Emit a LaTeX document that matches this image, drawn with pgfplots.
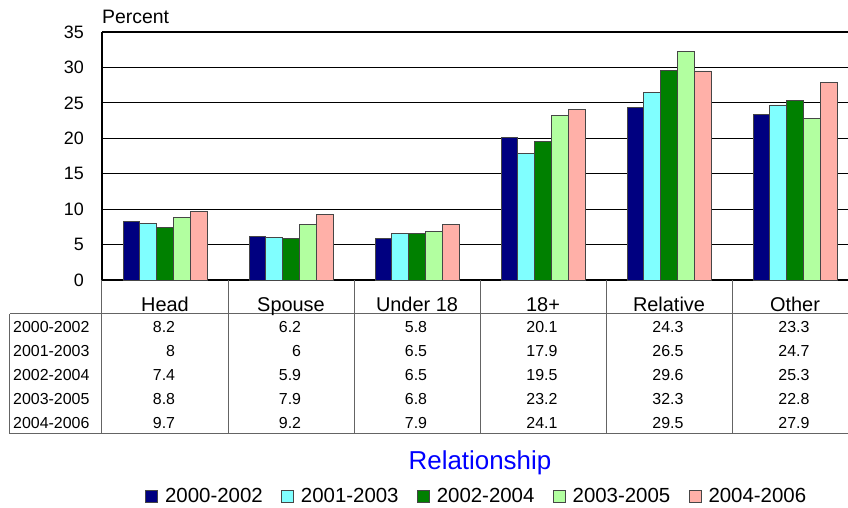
\documentclass[border=0pt]{standalone}
\usepackage{pgfplots}
\pgfplotsset{compat=1.18}
\usepackage{pgfplotstable}
\usepackage{fontspec}
\setmainfont{Liberation Sans}

\definecolor{cA}{RGB}{0,0,128}
\definecolor{cB}{RGB}{128,255,255}
\definecolor{cC}{RGB}{0,128,0}
\definecolor{cD}{RGB}{178,255,160}
\definecolor{cE}{RGB}{255,176,168}
\definecolor{edge}{RGB}{70,70,70}
\definecolor{tline}{RGB}{100,100,100}

\pgfplotstableread{
x A B C D E
0 8.2 8 7.4 8.8 9.7
1 6.2 6 5.9 7.9 9.2
2 5.8 6.5 6.5 6.8 7.9
3 20.1 17.9 19.5 23.2 24.1
4 24.3 26.5 29.6 32.3 29.5
5 23.3 24.7 25.3 22.8 27.9
}\data

\begin{document}
\begin{tikzpicture}
\begin{axis}[
  name=ax,
  scale only axis, width=746bp, height=248bp,
  xmin=-0.5, xmax=5.4206, ymin=0, ymax=35,
  ybar=0pt, bar width=16.8bp,
  axis x line*=bottom, axis y line*=left,
  axis line style={black, line width=1.4bp},
  xtick=\empty,
  ytick={0,5,...,35},
  ymajorgrids, grid style={black, line width=1.1bp},
  major tick length=0pt,
  /pgf/number format/assume math mode=true,
  yticklabel style={font=\fontsize{18}{20}\selectfont, inner sep=0pt, xshift=-18bp},
  clip=false,
  legend style={at={(43/746,-216/248)}, anchor=west, draw=none, fill=none,
    inner sep=0pt, font=\fontsize{20.5}{22}\selectfont,
    /tikz/every odd column/.append style={column sep=5bp},
    /tikz/every even column/.append style={column sep=16.3bp}},
  legend columns=-1,
  legend image code/.code={\draw[#1, draw=edge, line width=0.9bp] (0bp,-6bp) rectangle (12bp,6bp);},
]
\addplot[fill=cA, draw=edge, line width=0.9bp] table[x=x,y=A]{\data};
\addplot[fill=cB, draw=edge, line width=0.9bp] table[x=x,y=B]{\data};
\addplot[fill=cC, draw=edge, line width=0.9bp] table[x=x,y=C]{\data};
\addplot[fill=cD, draw=edge, line width=0.9bp] table[x=x,y=D]{\data};
\addplot[fill=cE, draw=edge, line width=0.9bp] table[x=x,y=E]{\data};
\legend{2000-2002,2001-2003,2002-2004,2003-2005,2004-2006}
\coordinate (O) at (rel axis cs:-0.136729,-0.919355);
\end{axis}
\begin{scope}[shift={(O)}, x=1bp, y=1bp]
\node[anchor=south west, inner sep=0pt, font=\fontsize{19.5}{21}\selectfont] at (102,484) {Percent};
% data table
\draw[tline, line width=1bp] (10,194) -- (870,194);
\draw[tline, line width=1bp] (10,74) -- (870,74);
\draw[tline, line width=1bp] (10,194) -- (10,74);
\foreach \k in {0,...,6} \draw[tline, line width=1bp] (102+126*\k,228) -- (102+126*\k,74);
\foreach \k/\n in {0/Head,1/Spouse,2/Under 18,3/18+,4/Relative,5/Other}
  \node[anchor=base, inner sep=0pt, font=\fontsize{20}{22}\selectfont] at (165+126*\k,196) {\n};
\foreach \r/\lab/\yy in {A/2000-2002/181,B/2001-2003/157,C/2002-2004/133,D/2003-2005/109,E/2004-2006/85}{
  \node[anchor=west, inner sep=0pt, font=\fontsize{16}{18}\selectfont] at (13,\yy) {\lab};
  \foreach \k in {0,...,5}{
    \pgfplotstablegetelem{\k}{\r}\of\data
    \let\v\pgfplotsretval
    \pgfmathparse{\v==int(\v) ? 1 : 0}
    \ifnum\pgfmathresult=1
      \node[inner sep=0pt, font=\fontsize{16}{18}\selectfont] at (164+126*\k,\yy) {\phantom{0.}\v};
    \else
      \node[inner sep=0pt, font=\fontsize{16}{18}\selectfont] at (164+126*\k,\yy) {\v};
    \fi
  }
}
\node[font=\fontsize{26}{28}\selectfont, text=blue] at (480,45) {Relationship};
\end{scope}
\pgfresetboundingbox
\path[shift={(O)}, x=1bp, y=1bp] (0,0) rectangle (848,508);
\end{tikzpicture}
\end{document}
